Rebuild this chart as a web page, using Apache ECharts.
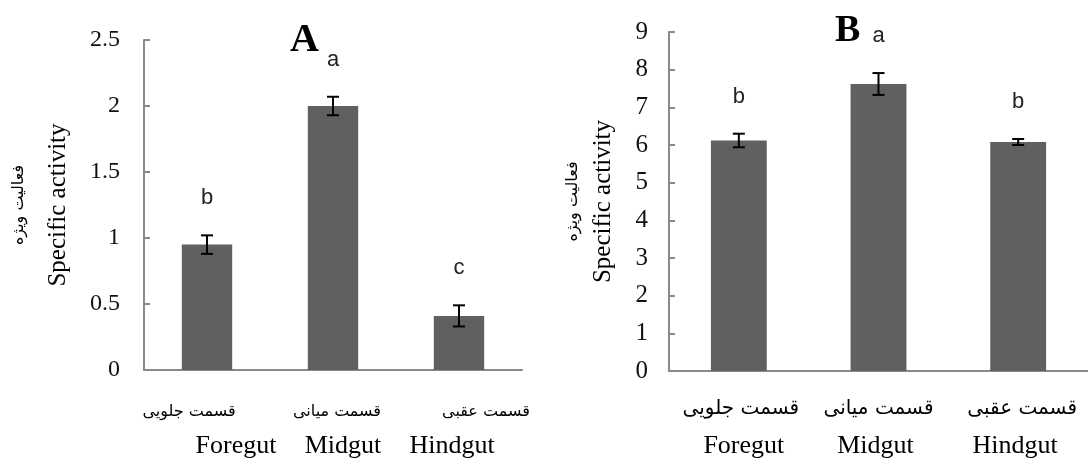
<!DOCTYPE html>
<html>
<head>
<meta charset="utf-8">
<script src="https://cdn.jsdelivr.net/npm/echarts@6/dist/echarts.min.js"></script>
<style>
  html, body { margin: 0; padding: 0; background: #fff; }
  #main { width: 1088px; height: 459px; }
</style>
</head>
<body>
<div id="main"></div>
<script>
// categories (Persian / English)
var catFa = ['قسمت جلویی', 'قسمت میانی', 'قسمت عقبی'];
var catEn = ['Foregut', 'Midgut', 'Hindgut'];

// panel A
var valuesA = [0.95, 2.0, 0.41];
var errorsA = [0.07, 0.07, 0.08];
var lettersA = ['b', 'a', 'c'];

// panel B
var valuesB = [6.12, 7.62, 6.08];
var errorsB = [0.18, 0.29, 0.08];
var lettersB = ['b', 'a', 'b'];

var nameFa = 'فعالیت ویژه';
var nameEn = 'Specific activity';

var chart = echarts.init(document.getElementById('main'));

var serif = '"Liberation Serif", "Times New Roman", serif';
var sans = '"Liberation Sans", Arial, sans-serif';
var faFont = '"DejaVu Sans", sans-serif';
var axisColor = '#898989';

function errorRender(letters) {
  return function (params, api) {
    var x = api.value(0), v = api.value(1), e = api.value(2);
    var top = api.coord([x, v + e]);
    var bot = api.coord([x, v - e]);
    var half = 6;
    var st = { stroke: '#000', lineWidth: 2 };
    return {
      type: 'group',
      children: [
        { type: 'line', shape: { x1: top[0], y1: top[1], x2: bot[0], y2: bot[1] }, style: st },
        { type: 'line', shape: { x1: top[0] - half, y1: top[1], x2: top[0] + half, y2: top[1] }, style: st },
        { type: 'line', shape: { x1: bot[0] - half, y1: bot[1], x2: bot[0] + half, y2: bot[1] }, style: st },
        {
          type: 'text',
          style: {
            text: letters[params.dataIndex], x: top[0], y: top[1] - 37,
            align: 'center', verticalAlign: 'middle',
            font: '22px ' + sans, fill: '#222'
          }
        }
      ]
    };
  };
}

function errData(vals, errs) {
  return vals.map(function (v, i) { return [i, v, errs[i]]; });
}

// per-category horizontal nudges of the two label lines
var shiftFaA = [-18, 4, 27];
var shiftEnA = [29, 10, -7];
var shiftFaB = [2, 0, 4];
var shiftEnB = [5, -3, -3];

function xLabelRich(faSize, faLh, enLh, shiftFa, shiftEn) {
  var rich = {};
  for (var i = 0; i < 3; i++) {
    var sf = shiftFa[i], se = shiftEn[i];
    rich['fa' + i] = {
      fontFamily: faFont, fontSize: faSize, lineHeight: faLh, color: '#000',
      padding: sf >= 0 ? [0, 0, 0, 2 * sf] : [0, -2 * sf, 0, 0]
    };
    rich['en' + i] = {
      fontFamily: serif, fontSize: 26, lineHeight: enLh, color: '#000',
      padding: se >= 0 ? [0, 0, 0, 2 * se] : [0, -2 * se, 0, 0]
    };
  }
  return rich;
}

function xAxisFor(gridIndex, margin, rich) {
  return {
    type: 'category', gridIndex: gridIndex,
    data: catEn,
    axisLine: { lineStyle: { color: axisColor, width: 2 } },
    axisTick: { inside: true, length: 7, lineStyle: { color: axisColor, width: 2 } },
    axisLabel: {
      margin: margin,
      interval: 0,
      formatter: function (val, idx) {
        return '{fa' + idx + '|' + catFa[idx] + '}\n{en' + idx + '|' + catEn[idx] + '}';
      },
      rich: rich
    }
  };
}

function yAxisFor(gridIndex, max, interval, labelSize, labelMargin, nameGap, faLh) {
  return {
    type: 'value', gridIndex: gridIndex, min: 0, max: max, interval: interval,
    splitLine: { show: false },
    axisLine: { show: true, lineStyle: { color: axisColor, width: 2 } },
    axisTick: { show: true, inside: true, length: 6, lineStyle: { color: axisColor, width: 2 } },
    axisLabel: { fontFamily: serif, fontSize: labelSize, color: '#111', margin: labelMargin },
    name: '{fa|' + nameFa + '}\n{en|' + nameEn + '}',
    nameLocation: 'middle',
    nameGap: nameGap,
    nameTextStyle: {
      rich: {
        fa: { fontFamily: faFont, fontSize: 16, lineHeight: faLh, color: '#000' },
        en: { fontFamily: serif, fontSize: 25, lineHeight: 26, color: '#000' }
      }
    }
  };
}

var option = {
  animation: false,
  backgroundColor: '#fff',
  title: [
    { text: 'A', left: 285, top: 16, textStyle: { fontFamily: serif, fontSize: 40, fontWeight: 'bold', color: '#000' } },
    { text: 'B', left: 830, top: 7, textStyle: { fontFamily: serif, fontSize: 38, fontWeight: 'bold', color: '#000' } }
  ],
  grid: [
    { left: 144, top: 40, width: 378, height: 334 },
    { left: 669, top: 32, width: 429, height: 340 }
  ],
  xAxis: [
    xAxisFor(0, 26, xLabelRich(16, 32, 36, shiftFaA, shiftEnA)),
    xAxisFor(1, 21, xLabelRich(20, 34, 40, shiftFaB, shiftEnB))
  ],
  yAxis: [
    yAxisFor(0, 2.5, 0.5, 24, 24, 73, 52),
    yAxisFor(1, 9, 1, 25, 21, 53, 34)
  ],
  series: [
    {
      type: 'bar', xAxisIndex: 0, yAxisIndex: 0, data: valuesA,
      barWidth: '40%', itemStyle: { color: '#606060' }
    },
    {
      type: 'custom', xAxisIndex: 0, yAxisIndex: 0, z: 5,
      renderItem: errorRender(lettersA), data: errData(valuesA, errorsA)
    },
    {
      type: 'bar', xAxisIndex: 1, yAxisIndex: 1, data: valuesB,
      barWidth: '40%', itemStyle: { color: '#606060' }
    },
    {
      type: 'custom', xAxisIndex: 1, yAxisIndex: 1, z: 5,
      renderItem: errorRender(lettersB), data: errData(valuesB, errorsB)
    }
  ]
};

chart.setOption(option);
</script>
</body>
</html>
